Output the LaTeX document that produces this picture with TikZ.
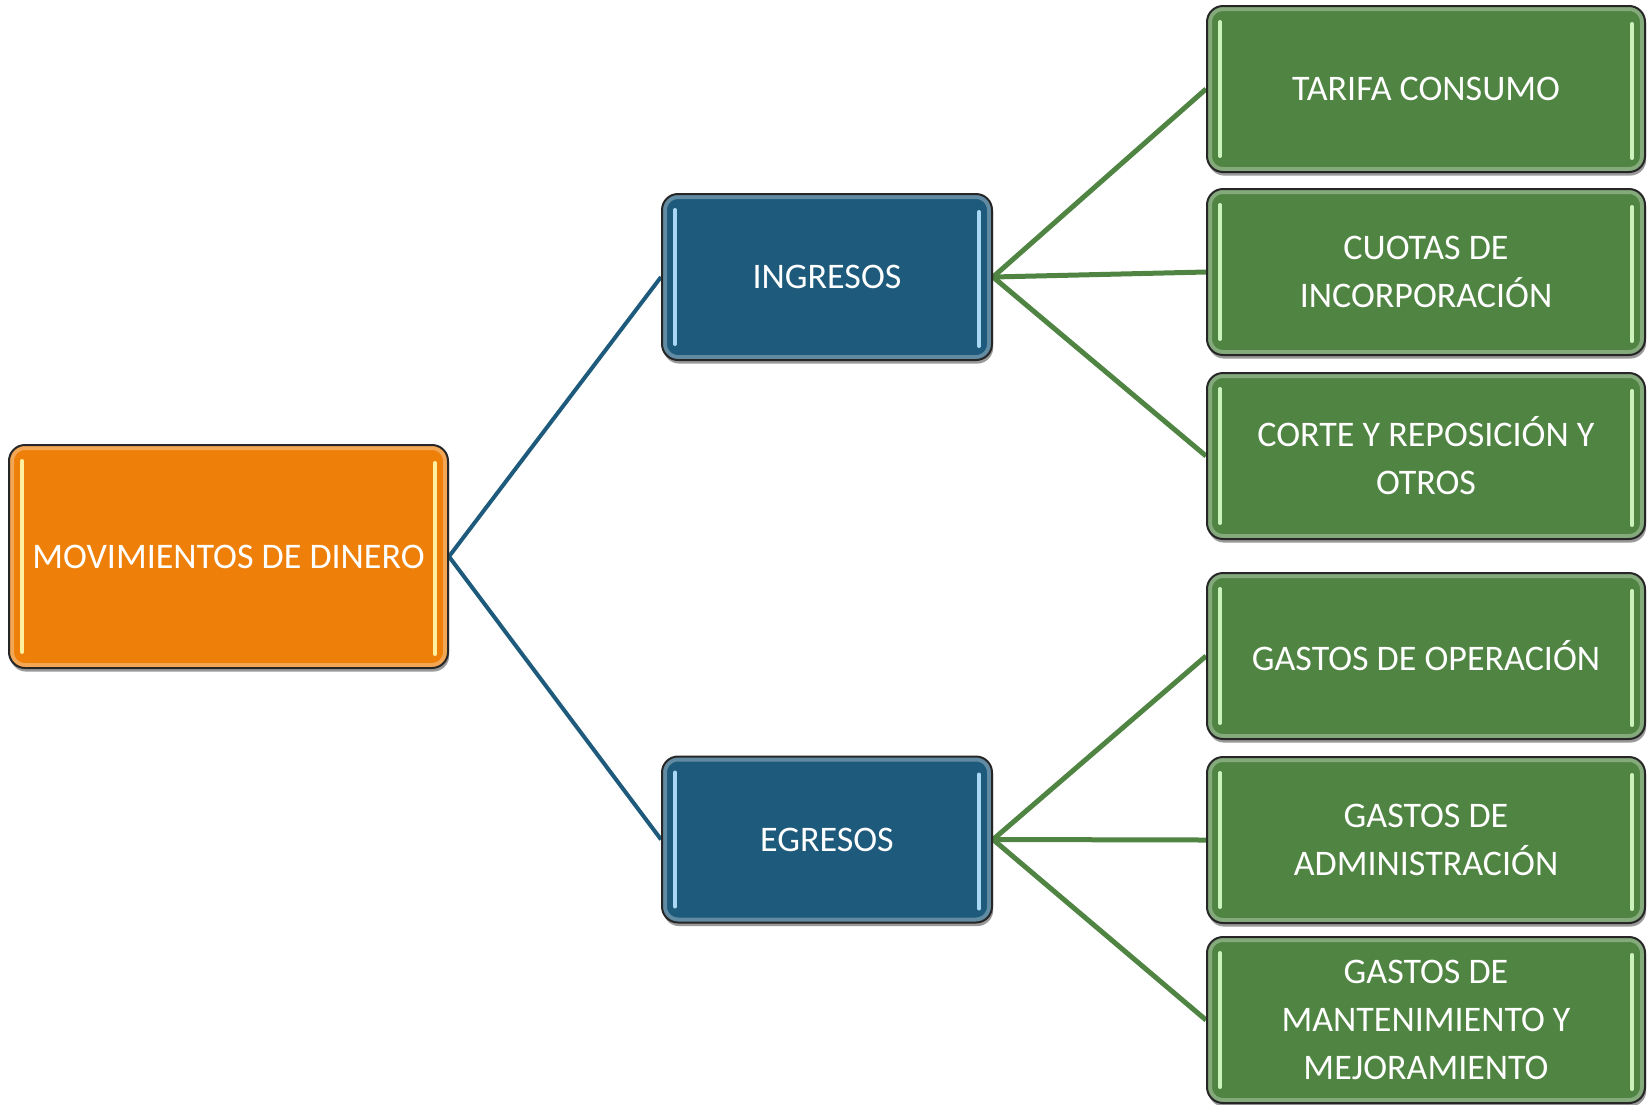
\documentclass[tikz,border=0pt]{standalone}
\usepackage{fontspec}
\setmainfont{Carlito}
\usetikzlibrary{shadows}
\definecolor{orangeF}{HTML}{EE800A}
\definecolor{blueF}{HTML}{1D5A7B}
\definecolor{greenF}{HTML}{508442}
\definecolor{orangeH}{HTML}{FFF0A0}
\definecolor{blueH}{HTML}{A9D8F5}
\definecolor{greenH}{HTML}{CDF3BC}
\pgfdeclarelayer{background}
\pgfsetlayers{background,main}
\begin{document}
\begin{tikzpicture}[x=0.5pt,y=-0.5pt,
  box/.style={draw=black!85, line width=1pt, rounded corners=8pt, text=white,
    align=center, inner sep=0pt, font=\fontsize{18}{24}\selectfont,
    drop shadow={shadow xshift=0.6pt, shadow yshift=-1.8pt, opacity=0.4, fill=black},
    path picture={
      \draw[white, opacity=0.3, line width=5pt, rounded corners=8pt]
        (path picture bounding box.south west) rectangle (path picture bounding box.north east);
      \draw[#1, line width=2pt, line cap=round]
        ([xshift=6.5pt,yshift=-8pt]path picture bounding box.north west) --
        ([xshift=6.5pt,yshift=8pt]path picture bounding box.south west);
      \draw[#1, line width=2pt, line cap=round]
        ([xshift=-6.5pt,yshift=-9pt]path picture bounding box.north east) --
        ([xshift=-6.5pt,yshift=7pt]path picture bounding box.south east);
    }},
  orangebox/.style={box=orangeH, fill=orangeF, minimum width=219.5pt, minimum height=111.5pt},
  bluebox/.style={box=blueH, fill=blueF, minimum width=165pt, minimum height=83pt},
  greenbox/.style={box=greenH, fill=greenF, minimum width=219pt, minimum height=83pt},
  bluecon/.style={draw=blueF, line width=2pt},
  greencon/.style={draw=greenF, line width=2.5pt}
]
\useasboundingbox (0,0) rectangle (1647,1104);

\node[orangebox] (mov) at (228.5,556.5) {MOVIMIENTOS DE DINERO};

\node[bluebox] (ing) at (827,277) {INGRESOS};
\node[bluebox] (egr) at (827,839.5) {EGRESOS};

\node[greenbox] (tar) at (1426,89) {TARIFA CONSUMO};
\node[greenbox] (cuo) at (1426,272) {CUOTAS DE\\INCORPORACIÓN};
\node[greenbox] (cor) at (1426,456) {CORTE Y REPOSICIÓN Y\\OTROS};
\node[greenbox] (gop) at (1426,656) {GASTOS DE OPERACIÓN};
\node[greenbox] (gad) at (1426,840) {GASTOS DE\\ADMINISTRACIÓN};
\node[greenbox] (gma) at (1426,1020) {GASTOS DE\\MANTENIMIENTO Y\\MEJORAMIENTO};

\begin{pgfonlayer}{background}
\draw[bluecon] (mov.east) -- (ing.west);
\draw[bluecon] (mov.east) -- (egr.west);
\draw[greencon] (ing.east) -- (tar.west);
\draw[greencon] (ing.east) -- (cuo.west);
\draw[greencon] (ing.east) -- (cor.west);
\draw[greencon] (egr.east) -- (gop.west);
\draw[greencon] (egr.east) -- (gad.west);
\draw[greencon] (egr.east) -- (gma.west);
\end{pgfonlayer}
\end{tikzpicture}
\end{document}
